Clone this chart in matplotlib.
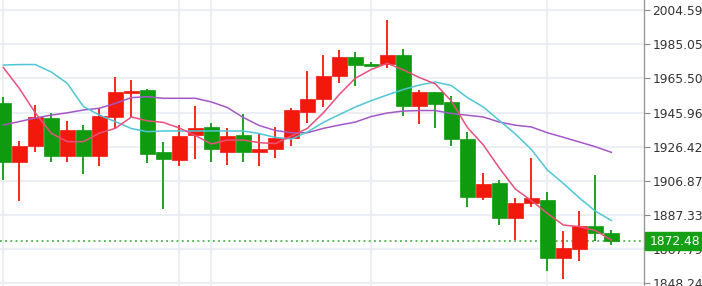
import numpy as np
import matplotlib
matplotlib.use("Agg")
import matplotlib.pyplot as plt
from matplotlib.patches import Rectangle

# OHLC (red = up, green = down)
opens = [1951.2, 1917.5, 1927.0, 1943.0, 1921.3, 1935.8, 1921.3, 1943.2, 1957.1, 1959.0,
         1923.2, 1919.0, 1933.1, 1937.5, 1923.6, 1933.3, 1923.4, 1924.9, 1931.6, 1946.1,
         1953.7, 1966.7, 1977.7, 1973.7, 1973.7, 1978.9, 1949.7, 1957.5, 1951.8, 1930.6,
         1897.7, 1905.8, 1885.6, 1894.2, 1895.9, 1862.6, 1867.9, 1881.1, 1876.9]
highs = [1954.7, 1929.7, 1950.1, 1945.5, 1941.1, 1938.8, 1948.4, 1966.3, 1964.6, 1959.4,
         1929.3, 1938.8, 1949.9, 1939.8, 1937.3, 1944.9, 1933.5, 1937.7, 1948.4, 1969.5,
         1978.9, 1981.7, 1980.7, 1975.0, 1998.9, 1982.3, 1958.8, 1957.7, 1955.6, 1934.7,
         1911.5, 1907.2, 1896.9, 1920.0, 1900.3, 1878.4, 1889.6, 1910.1, 1878.8]
lows = [1907.4, 1895.4, 1923.6, 1917.5, 1917.5, 1911.0, 1915.5, 1936.9, 1943.6, 1917.3,
        1890.6, 1915.5, 1919.4, 1917.5, 1915.9, 1917.5, 1915.5, 1920.1, 1927.0, 1940.1,
        1949.3, 1962.7, 1961.1, 1972.4, 1971.3, 1944.1, 1939.2, 1937.3, 1926.8, 1891.8,
        1895.8, 1881.6, 1872.9, 1892.1, 1855.2, 1850.6, 1861.2, 1872.7, 1870.2]
closes = [1917.5, 1927.0, 1943.2, 1921.3, 1935.8, 1921.3, 1944.0, 1957.5, 1958.4, 1922.4,
          1919.2, 1932.5, 1937.3, 1924.9, 1932.5, 1923.4, 1925.1, 1931.2, 1947.4, 1953.7,
          1966.9, 1977.9, 1973.3, 1972.4, 1978.9, 1949.7, 1957.7, 1950.8, 1931.0, 1897.5,
          1905.3, 1885.6, 1894.4, 1897.1, 1862.6, 1868.3, 1881.1, 1876.9, 1872.48]

# moving averages (values at each candle)
ma_fast = [1971.7, 1959.7, 1945.7, 1934.0, 1929.3, 1929.3, 1934.2, 1936.9, 1943.4, 1941.2,
           1940.3, 1937.1, 1932.8, 1928.0, 1930.2, 1930.2, 1928.7, 1928.2, 1932.5, 1936.9,
           1945.8, 1956.3, 1965.6, 1970.6, 1974.1, 1970.3, 1966.0, 1962.3, 1952.5, 1937.4,
           1927.4, 1914.2, 1902.2, 1895.6, 1888.3, 1881.6, 1880.7, 1878.5, 1873.0]
ma_mid = [1973.1, 1973.4, 1973.4, 1969.1, 1962.6, 1949.4, 1944.5, 1940.7, 1936.8, 1935.0,
          1935.4, 1935.4, 1935.4, 1935.4, 1935.4, 1935.4, 1933.9, 1931.7, 1930.8, 1934.8,
          1940.3, 1944.8, 1949.1, 1952.8, 1956.0, 1959.1, 1961.7, 1963.4, 1961.4, 1954.5,
          1949.1, 1941.4, 1933.7, 1924.8, 1913.1, 1905.4, 1897.1, 1889.6, 1884.2]
ma_slow = [1938.8, 1940.8, 1942.8, 1944.5, 1945.8, 1947.4, 1948.4, 1951.2, 1954.5, 1955.0,
           1954.1, 1954.1, 1954.1, 1952.0, 1948.8, 1943.1, 1938.5, 1935.7, 1934.4, 1934.4,
           1936.9, 1938.8, 1940.5, 1943.7, 1945.7, 1946.8, 1947.1, 1947.1, 1945.4, 1944.4,
           1943.4, 1940.5, 1938.7, 1937.7, 1934.4, 1931.8, 1929.1, 1926.4, 1923.2]

yticks = [2004.59, 1985.05, 1965.50, 1945.96, 1926.42, 1906.87, 1887.33, 1867.79, 1848.24]
vgrid = [0, 11, 13, 23, 34]
last_price = 1872.48

up_col = "#f2190c"
down_col = "#0f9b0f"

fig = plt.figure(figsize=(7.02, 2.86), dpi=100)
ax = fig.add_axes([0, 0, 644 / 702, 1])

n = len(opens)
x = np.arange(n)
o = np.array(opens)
c = np.array(closes)
cols = [up_col if cc >= oo else down_col for oo, cc in zip(o, c)]

for xv in vgrid:
    ax.axvline(xv, color="#e8ecf2", lw=1.2, zorder=0)
for yv in yticks:
    ax.axhline(yv, color="#e8ecf2", lw=1.2, zorder=0)

ax.vlines(x, lows, highs, colors=cols, lw=1.3, zorder=2)
ax.bar(x, np.maximum(np.abs(c - o), 0.8), bottom=np.minimum(o, c), width=0.92,
       color=cols, edgecolor=cols, lw=0.5, zorder=3)

ax.plot(x, ma_slow, color="#a458c8", lw=1.1, zorder=4)
ax.plot(x, ma_mid, color="#4fc6d6", lw=1.1, zorder=4)
ax.plot(x, ma_fast, color="#e8507c", lw=1.1, zorder=4)

ax.axhline(last_price, color="#2aa82a", lw=1.1, ls=(0, (1.2, 2.2)), zorder=1)

ax.set_xlim(-0.21, 40.04)
ax.set_ylim(1846.75, 2010.31)
ax.set_xticks([])
ax.yaxis.tick_right()
ax.set_yticks(yticks)
ax.set_yticklabels([f"{v:.2f}" for v in yticks])
ax.tick_params(axis="y", length=4, width=0.8, color="#888888", pad=2,
               labelsize=8.8, labelcolor="#333333")
for s in ["top", "left", "bottom"]:
    ax.spines[s].set_visible(False)
ax.spines["right"].set_color("#999999")
ax.spines["right"].set_linewidth(1.0)

# last price tag
fig.patches.append(Rectangle((645 / 702, 36 / 286), 57 / 702, 18 / 286,
                             transform=fig.transFigure, color="#16a016", zorder=10))
fig.text(650 / 702, 1 - 241.5 / 286, "1872.48", color="white", fontsize=8.8,
         va="center", ha="left", zorder=11)

fig.savefig("out.png", dpi=100)
